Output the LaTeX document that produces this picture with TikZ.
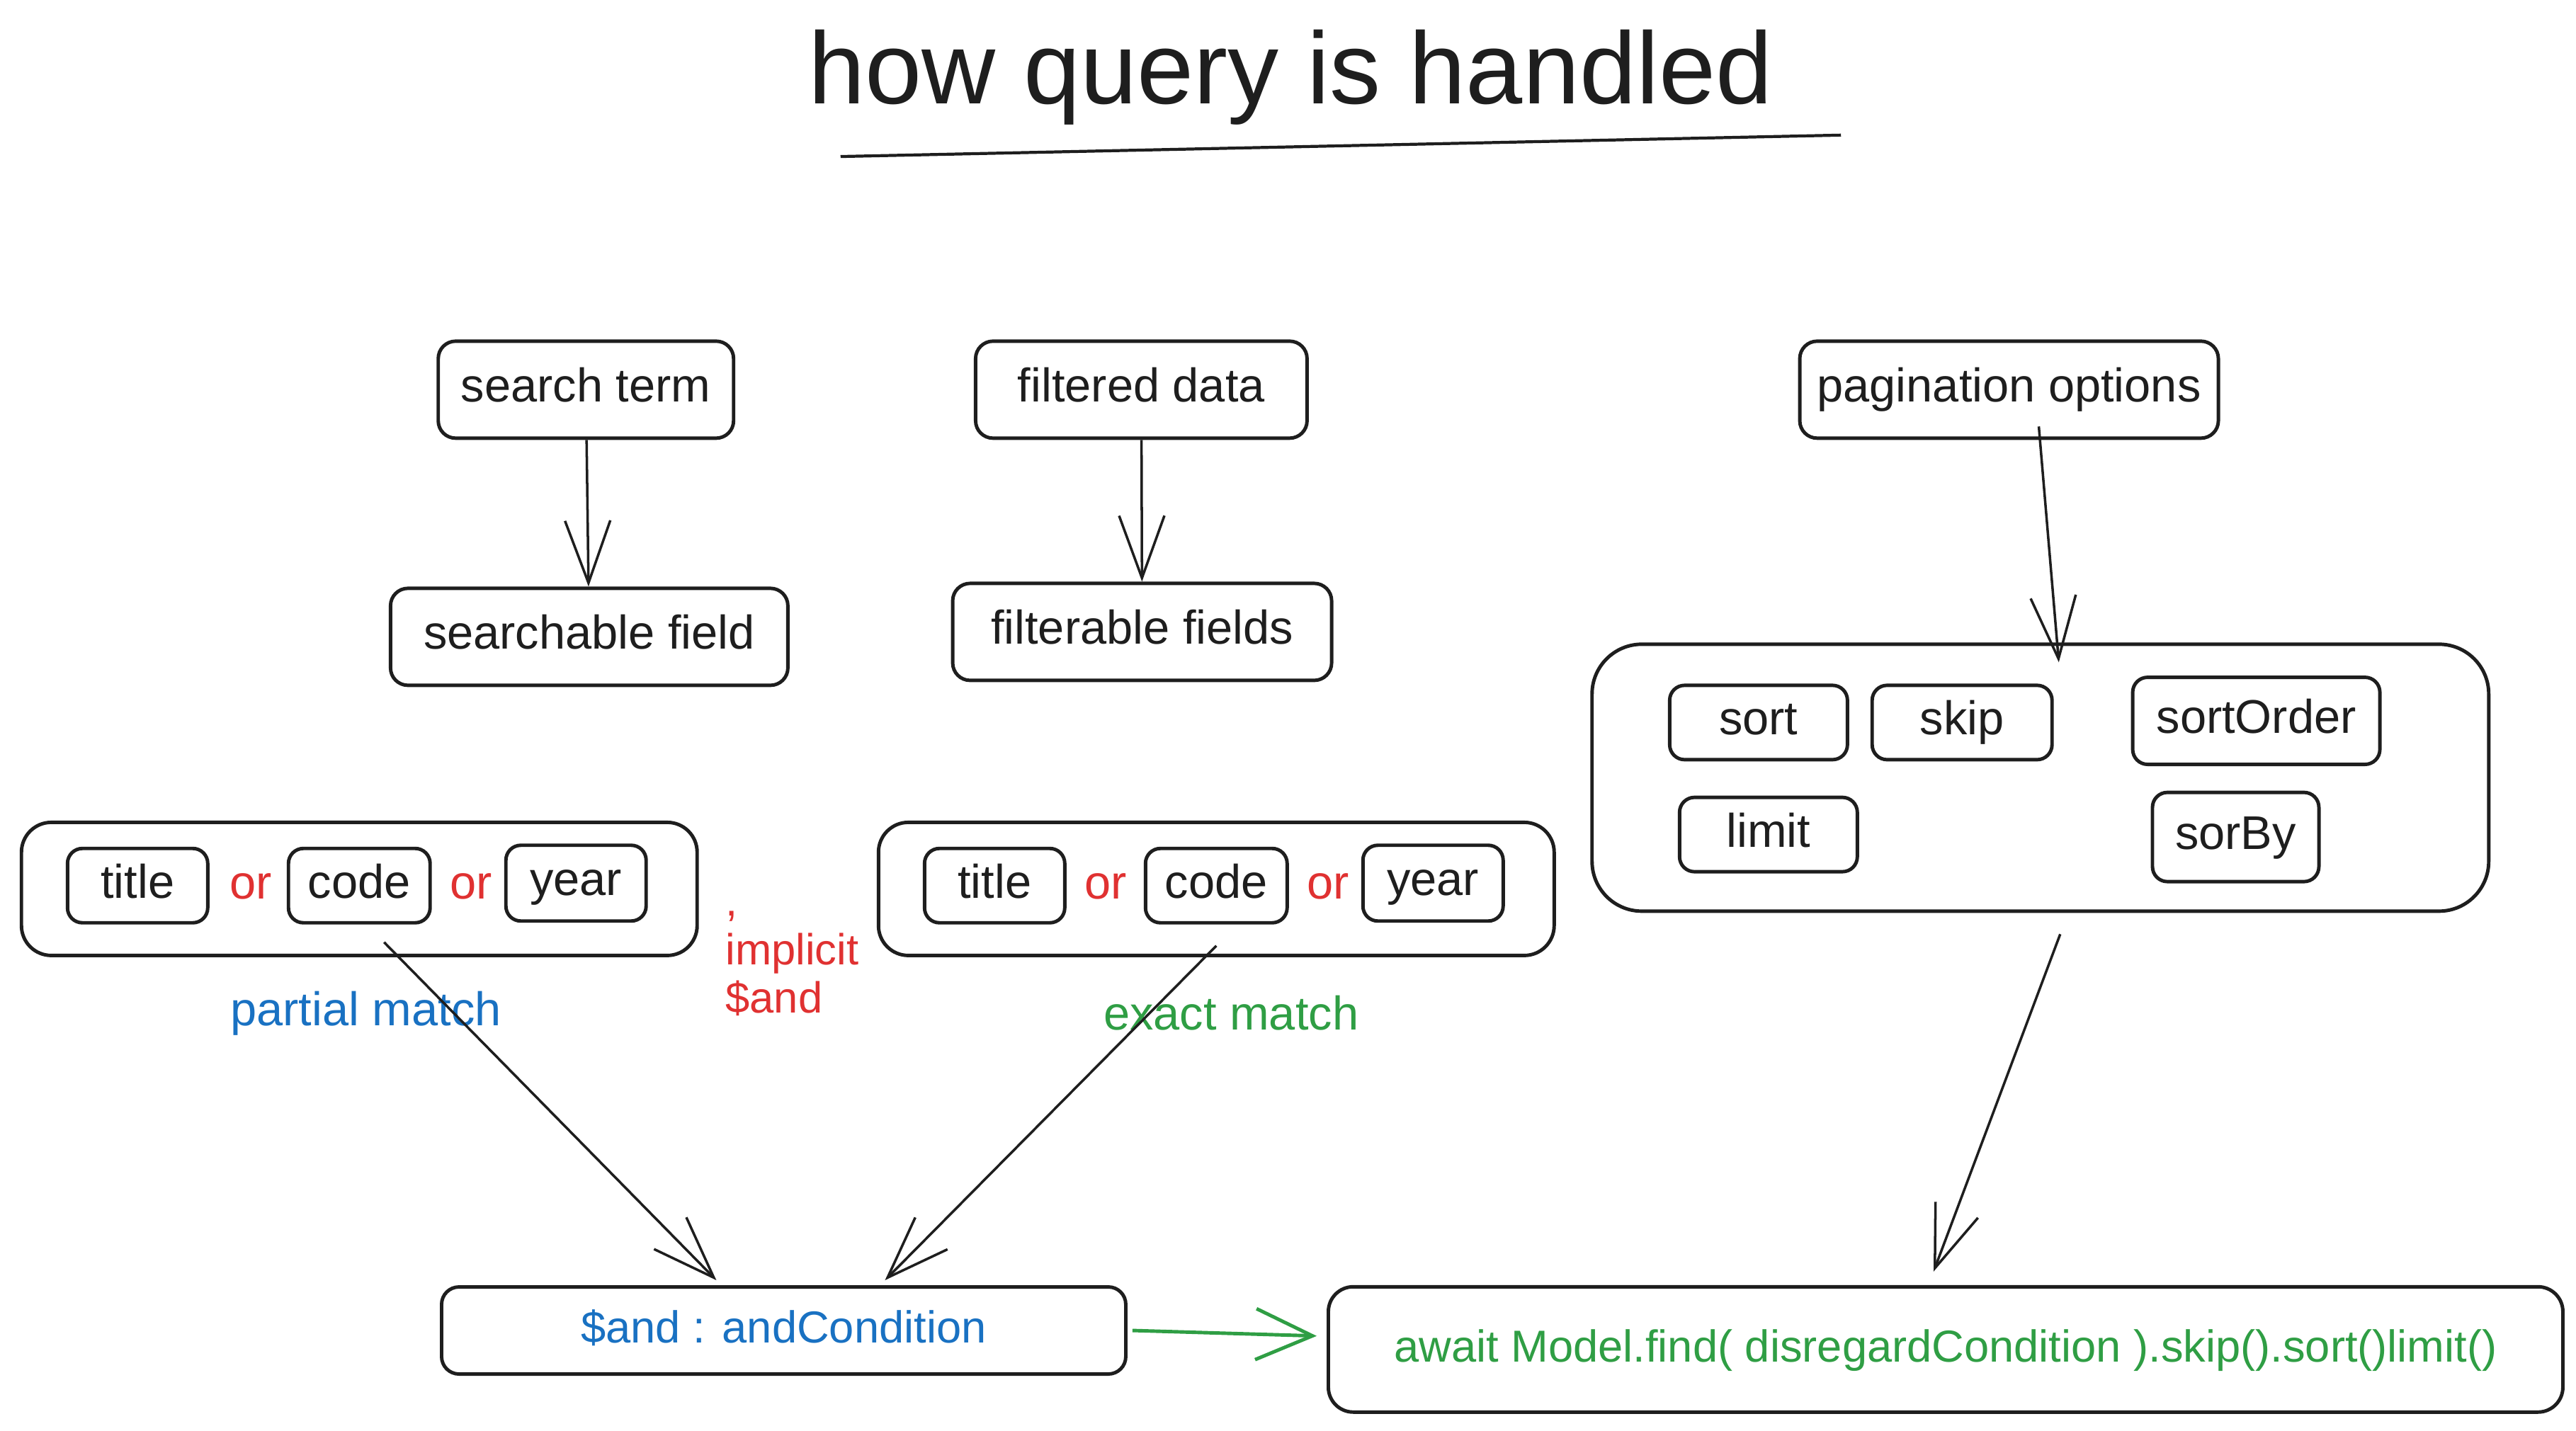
\documentclass[tikz,border=0pt]{standalone}
\usepackage{fontspec}
\setmainfont{Liberation Sans}
\usetikzlibrary{arrows.meta}
\definecolor{ink}{HTML}{1E1E1E}
\definecolor{xblue}{HTML}{1971C2}
\definecolor{xgreen}{HTML}{2F9E44}
\definecolor{xred}{HTML}{E03131}
\tikzset{
  box/.style={draw=ink, line width=1.4pt, rounded corners=7pt, inner sep=0pt, text=ink,
    font=\fontsize{19}{22}\selectfont, minimum height=1.37cm, text height=13.5pt, text depth=3.5pt},
  chip/.style={box, rounded corners=6pt, minimum height=1.05cm},
  orword/.style={text=xred, font=\fontsize{19}{22}\selectfont},
  tag/.style={font=\fontsize{19}{22}\selectfont},
  arr/.style={draw=ink, line width=1pt, -{Straight Barb[length=0.88cm,width=0.64cm,line width=1pt]}},
  garr/.style={draw=xgreen, line width=1.4pt, -{Straight Barb[length=0.8cm,width=0.72cm,line width=1.4pt]}}
}
\begin{document}
\begin{tikzpicture}[x=0.02327cm,y=-0.02327cm]
\useasboundingbox (0,0) rectangle (1563,868.5);
\node[text=ink, font=\fontsize{41}{48}\selectfont] (title) at (783,47) {how query is handled};
\draw[ink, line width=1.2pt] (510,95) -- (1117,82);

\node[box, minimum width=4.17cm] (sterm) at (355.5,236.5) {search term};
\node[box, minimum width=4.68cm] (fdata) at (692.5,236.5) {filtered data};
\node[box, minimum width=5.91cm] (popt) at (1219,236.5) {pagination options};
\node[box, minimum width=5.61cm] (sfield) at (357.5,386.5) {searchable field};
\node[box, minimum width=5.35cm] (ffields) at (693,383.5) {filterable fields};

\node[box, rounded corners=20pt, minimum width=12.66cm, minimum height=3.77cm] (pbox) at (1238,472) {};
\node[chip, minimum width=2.51cm] (sort) at (1067,438.5) {sort};
\node[chip, minimum width=2.54cm] (skip) at (1190.5,438.5) {skip};
\node[chip, minimum width=3.49cm, minimum height=1.23cm] (sortorder) at (1369,437.5) {sortOrder};
\node[chip, minimum width=2.51cm] (limit) at (1073,506.5) {limit};
\node[chip, minimum width=2.35cm, minimum height=1.26cm] (sorby) at (1356.5,508) {sorBy};

\node[box, rounded corners=12pt, minimum width=9.54cm, minimum height=1.88cm] (lgroup) at (218,539.5) {};
\node[chip, minimum width=1.98cm] (ltitle) at (83.5,537.5) {title};
\node[orword] (lor1) at (152,538) {or};
\node[chip, minimum width=2cm] (lcode) at (218,537.5) {code};
\node[orword] (lor2) at (286,538) {or};
\node[chip, minimum width=1.98cm, minimum height=1.07cm] (lyear) at (349.5,536) {year};

\node[box, rounded corners=12pt, minimum width=9.54cm, minimum height=1.88cm] (mgroup) at (738,539.5) {};
\node[chip, minimum width=1.98cm] (mtitle) at (603.5,537.5) {title};
\node[orword] (mor1) at (671,538) {or};
\node[chip, minimum width=2cm] (mcode) at (738,537.5) {code};
\node[orword] (mor2) at (806,538) {or};
\node[chip, minimum width=1.98cm, minimum height=1.07cm] (myear) at (869.5,536) {year};

\node[anchor=west, align=left, text=xred, font=\fontsize{17.5}{19.5}\selectfont, inner sep=0pt] (note) at (440,585) {,\\implicit\\\$and};
\node[tag, text=xblue] (partial) at (222,615) {partial match};
\node[tag, text=xgreen] (exact) at (747,615) {exact match};

\node[box, minimum width=9.66cm, minimum height=1.23cm, text=xblue, font=\fontsize{18}{21}\selectfont] (andbox) at (475.5,807.5) {\$and : andCondition};
\node[box, rounded corners=10pt, minimum width=17.43cm, minimum height=1.77cm, text=xgreen, font=\fontsize{18}{21}\selectfont] (findbox) at (1180.5,819) {await Model.find( disregardCondition ).skip().sort()limit()};

\draw[arr] (sterm) -- (sfield);
\draw[arr] (fdata) -- (ffields);
\draw[arr] ([xshift=0.42cm,yshift=0.19cm]popt.south) -- ([xshift=0.26cm,yshift=-0.28cm]pbox.north);
\draw[arr] ([xshift=0.35cm,yshift=-0.25cm]lcode.south) -- ([xshift=-0.95cm,yshift=0.07cm]andbox.north);
\draw[arr] ([yshift=-0.3cm]mcode.south) -- ([xshift=1.43cm,yshift=0.07cm]andbox.north);
\draw[arr] ([xshift=0.28cm,yshift=-0.3cm]pbox.south) -- ([xshift=-0.17cm,yshift=0.19cm]findbox.north);
\draw[garr] ([xshift=0.07cm]andbox.east) -- ([xshift=-0.14cm,yshift=0.19cm]findbox.west);
\end{tikzpicture}
\end{document}
